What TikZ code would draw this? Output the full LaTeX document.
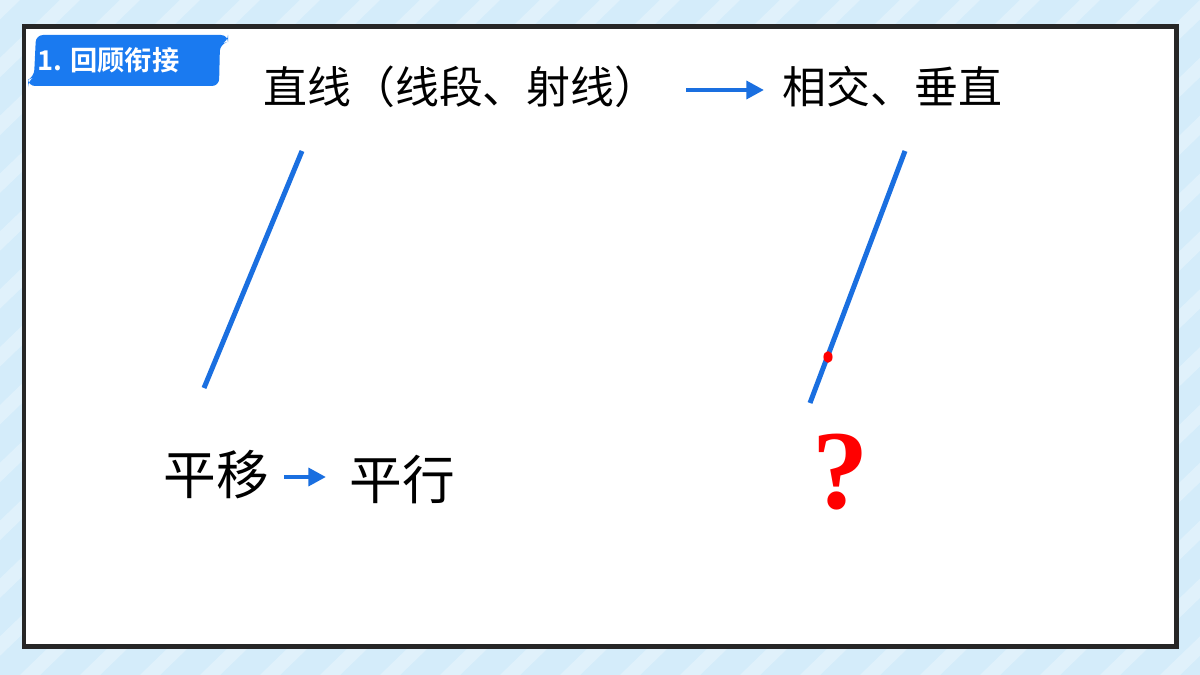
\documentclass[tikz,border=0pt]{standalone}
\usepackage{fontspec}
\newfontfamily\cjk{Noto Sans CJK SC}
\newfontfamily\cjkb{Noto Sans CJK SC Bold}
\setmainfont{Liberation Serif}
\usetikzlibrary{arrows.meta}
\definecolor{bgblue}{HTML}{D4ECFA}
\definecolor{lineblue}{HTML}{1A6FE0}
\definecolor{tagblue}{HTML}{1A7AF0}
\begin{document}
\begin{tikzpicture}[x=0.02cm,y=-0.02cm,
  seg/.style={draw=lineblue,line width=5*0.569pt},
  arr/.style={draw=lineblue,line width=4.5*0.569pt,-{Triangle[length=10pt,width=10pt]}},
  big/.style={font=\cjk\fontsize{25pt}{30pt}\selectfont,inner sep=0pt,anchor=west},
  bigger/.style={font=\cjk\fontsize{30pt}{36pt}\selectfont,inner sep=0pt,anchor=west}]
\useasboundingbox (0,0) rectangle (1200,675);
\fill[bgblue] (0,0) rectangle (1200,675);
\begin{scope}
\clip (0,0) rectangle (1200,675);
\foreach \i in {-700,-640,...,1300}{
  \fill[white,opacity=0.3] (\i,675) -- (\i+20,675) -- (\i+20+700,0) -- (\i+700,0) -- cycle;
}
\end{scope}
% frame
\fill[white] (24,27) rectangle (1176,646);
\draw[draw=black!85,line width=5*0.569pt] (24,27) rectangle (1176,646);
% tag
\fill[tagblue,rounded corners=4pt] (36,35) -- (228,35) -- (228,42) -- (220,44) -- (219,86) -- (28,86) -- (28,80) -- (34,77) -- cycle;
\node[font=\cjkb\fontsize{15.5pt}{18pt}\selectfont,text=white,inner sep=0pt,anchor=west] (tag) at (37,60) {1. 回顾衔接};
% top row
\node[big] (t1) at (263,87) {直线（线段、射线）};
\node[big] (t2) at (782,87) {相交、垂直};
\coordinate (a1s) at (686,90);
\coordinate (a1e) at (764,90);
\draw[arr] (a1s) -- (a1e);
% lines
\coordinate (l1a) at (302,151);
\coordinate (l1b) at (204,388);
\draw[seg] (l1a) -- (l1b);
\coordinate (l2a) at (905,151);
\coordinate (l2b) at (810,403);
\draw[seg] (l2a) -- (l2b);
\fill[red] (828,357) ellipse[x radius=2.6pt,y radius=3.3pt];
% bottom row
\node[bigger] (b1) at (163,475) {平移};
\node[bigger] (b2) at (349,480) {平行};
\coordinate (a2s) at (284,477);
\coordinate (a2e) at (326,477);
\draw[arr] (a2s) -- (a2e);
\node[font=\bfseries\fontsize{64pt}{72pt}\selectfont,text=red,inner sep=0pt] (q) at (841,472) {?};
\end{tikzpicture}
\end{document}
